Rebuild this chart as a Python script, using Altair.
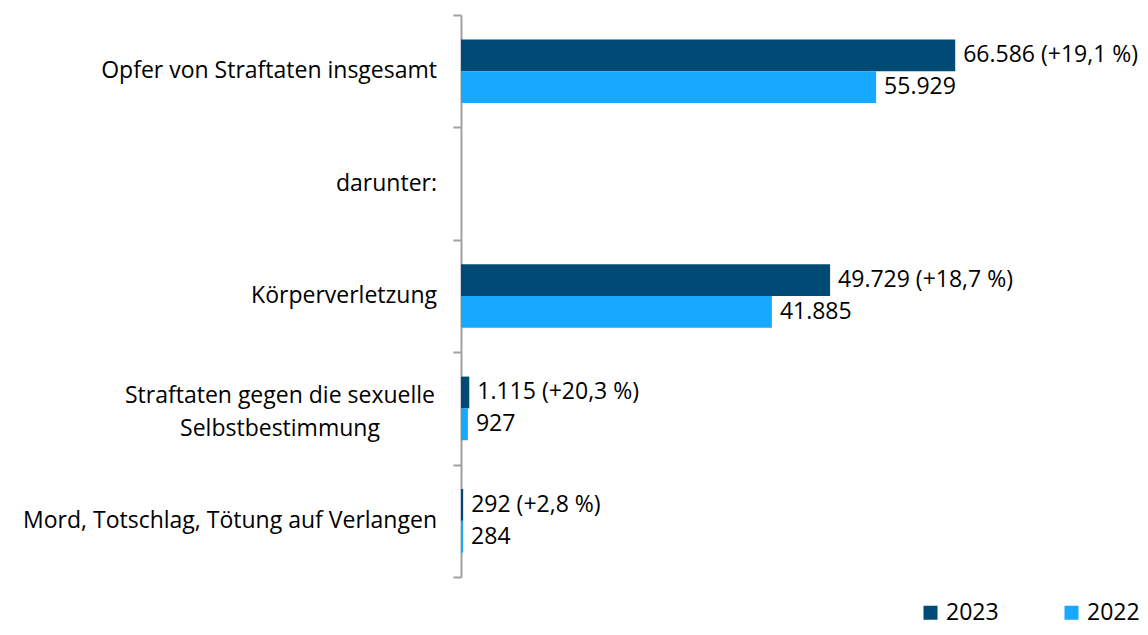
import altair as alt
import pandas as pd

# Data
categories = [
    "Opfer von Straftaten insgesamt",
    "darunter:",
    "Körperverletzung",
    "Straftaten gegen die sexuelle|Selbstbestimmung",
    "Mord, Totschlag, Tötung auf Verlangen",
]
values_2023 = [66586, None, 49729, 1115, 292]
values_2022 = [55929, None, 41885, 927, 284]
change_2023 = ["+19,1 %", None, "+18,7 %", "+20,3 %", "+2,8 %"]
years = ["2023", "2022"]
colors = ["#004B76", "#16A9FF"]


def fmt(v):
    return f"{v:,}".replace(",", ".")


rows = []
for cat, v23, v22, ch in zip(categories, values_2023, values_2022, change_2023):
    if v23 is not None:
        rows.append({"category": cat, "year": "2023", "value": v23,
                     "label": f"{fmt(v23)} ({ch})"})
    if v22 is not None:
        rows.append({"category": cat, "year": "2022", "value": v22,
                     "label": fmt(v22)})
df = pd.DataFrame(rows)
df_cat = pd.DataFrame({"category": categories})

FONT = "Open Sans"
FS = 23
GREY = "#A0A0A0"

y_enc = alt.Y(
    "category:N",
    scale=alt.Scale(domain=categories, paddingInner=0, paddingOuter=0),
    axis=alt.Axis(
        title=None,
        labels=False,
        tickBand="extent",
        domainColor=GREY,
        domainWidth=2,
        tickColor=GREY,
        tickWidth=2,
        tickSize=8,
    ),
    sort=categories,
)
yoff_enc = alt.YOffset(
    "year:N",
    scale=alt.Scale(domain=years, paddingInner=0, paddingOuter=0.766),
)
x_enc = alt.X(
    "value:Q",
    scale=alt.Scale(domain=[0, 90000], nice=False, zero=True),
    axis=None,
)

base = alt.Chart(df).encode(y=y_enc, yOffset=yoff_enc, x=x_enc)

bars = base.mark_bar().encode(
    color=alt.Color(
        "year:N",
        scale=alt.Scale(domain=years, range=colors),
        legend=alt.Legend(
            title=None,
            orient="none",
            legendX=458,
            legendY=586,
            direction="horizontal",
            symbolType="square",
            symbolSize=196,
            symbolStrokeWidth=0,
            labelFont=FONT,
            labelFontSize=FS,
            labelColor="#000000",
            labelOffset=4,
            columnPadding=61,
            padding=0,
        ),
    )
)

values_text = base.mark_text(
    align="left", baseline="middle", dx=8, font=FONT, fontSize=FS, color="#000000"
).encode(text="label:N")

cat_single = (
    alt.Chart(df_cat)
    .transform_filter("indexof(datum.category, '|') < 0")
    .mark_text(align="right", baseline="middle", font=FONT, fontSize=FS, color="#000000")
    .encode(y=y_enc, x=alt.value(-24), text="category:N")
)

cat_multi = (
    alt.Chart(df_cat)
    .transform_filter("indexof(datum.category, '|') >= 0")
    .mark_text(
        align="center", baseline="middle", font=FONT, fontSize=FS, color="#000000",
        lineBreak="|", lineHeight=33, dy=-12,
    )
    .encode(y=y_enc, x=alt.value(-181), text="category:N")
)

chart = (
    alt.layer(bars, values_text, cat_single, cat_multi)
    .properties(
        width=668,
        height=562,
        autosize=alt.AutoSizeParams(type="none"),
        padding={"left": 453, "top": 7, "right": 11, "bottom": 50},
    )
    .configure_view(stroke=None)
)

chart.save("out.html", embed_options={"renderer": "svg", "actions": False})
